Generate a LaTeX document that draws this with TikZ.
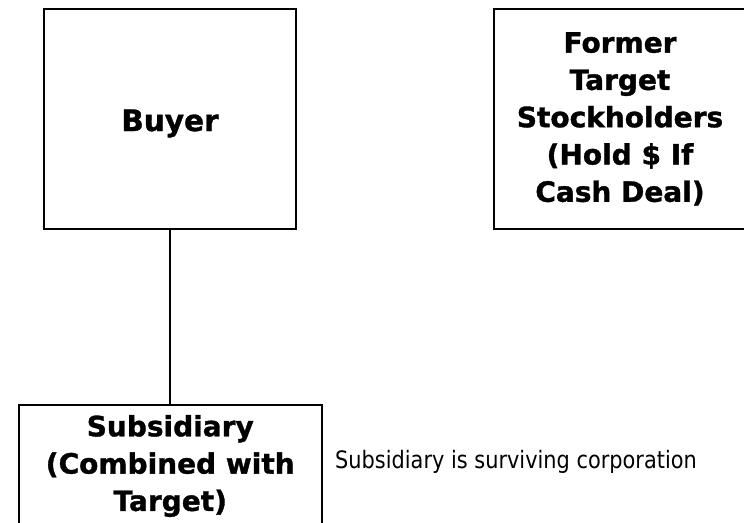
\documentclass[tikz,border=0pt]{standalone}
\usepackage{fontspec}
\setmainfont{DejaVu Sans}
\newfontfamily\heavyfont[FakeBold=1.2]{DejaVu Sans Bold}
\newfontfamily\notefont[FakeStretch=0.87]{DejaVu Sans}
\begin{document}
\begin{tikzpicture}[x=1pt,y=-1pt,
  box/.style={draw, line width=2pt, inner sep=0pt, align=center,
    font=\heavyfont\fontsize{28}{37.3}\selectfont},
  conn/.style={line width=2pt}]
\useasboundingbox (0,0) rectangle (744,522);
\clip (0,0) rectangle (744,522);
\node[box, minimum width=252pt, minimum height=220.3pt,
  font=\heavyfont\fontsize{29.5}{36}\selectfont, text height=31pt, text depth=6.7pt] (buyer) at (170,118.85) {Buyer};
\node[box, minimum width=253pt, minimum height=220.3pt] (former) at (620,118.85)
  {Former\\Target\\Stockholders\\(Hold \$ If\\Cash Deal)};
\node[box, minimum width=303.5pt, minimum height=123pt] (sub) at (170.25,466)
  {Subsidiary\\(Combined with\\Target)};
\draw[conn] (buyer.south) -- (buyer.south |- sub.north);
\node[anchor=base west, inner sep=0pt, font=\notefont\fontsize{24}{28}\selectfont] (note) at (335,468.3)
  {Subsidiary is surviving corporation};
\end{tikzpicture}
\end{document}
